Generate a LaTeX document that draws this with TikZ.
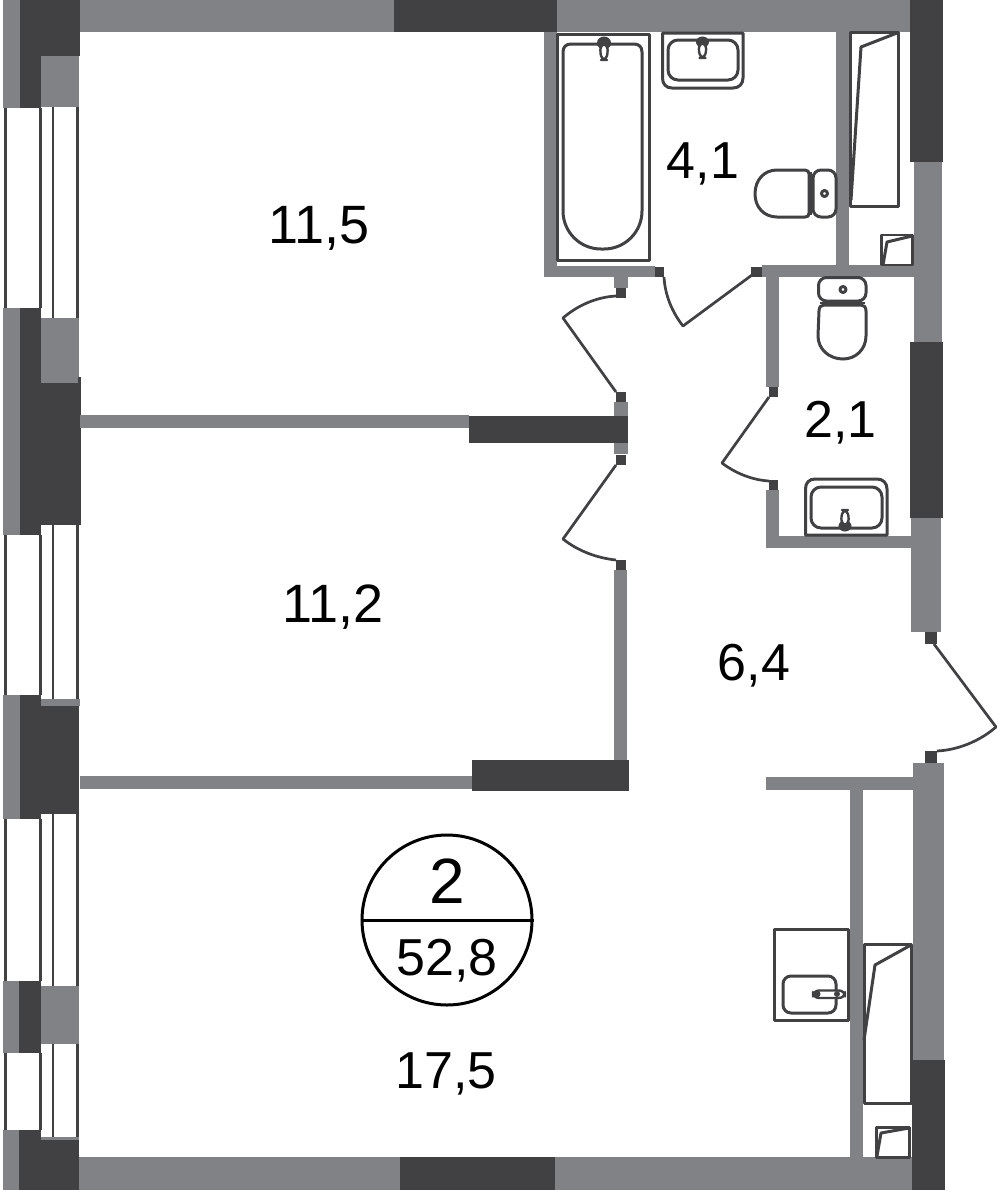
\documentclass[tikz,border=0pt]{standalone}
\usepackage{fontspec}
\setmainfont{Liberation Sans}
\definecolor{wallg}{HTML}{808285}
\definecolor{walld}{HTML}{414042}
\newcommand\gw[4]{\fill[wallg] (#1,#2) rectangle (#3,#4);}
\newcommand\dw[4]{\fill[walld] (#1,#2) rectangle (#3,#4);}
\newcommand\win[4]{%
  \dw{3.5}{#1}{7}{#2}\dw{39}{#1}{42.3}{#2}%
  \dw{52}{#3}{54.4}{#4}\dw{76}{#3}{78.8}{#4}}
\tikzset{
  fix/.style={draw=walld,line width=1.5pt,line join=round},
  thin fix/.style={draw=walld,line width=1.2pt,line join=round},
  leaf/.style={draw=walld,line width=1.35pt,line join=round},
  area/.style={font=\fontsize{26}{26}\selectfont,anchor=base,text=black,inner sep=0pt},
  big area/.style={area,font=\fontsize{27}{27}\selectfont},
}
\begin{document}
\begin{tikzpicture}[x=0.5pt,y=-0.5pt]
\useasboundingbox (0,0) rectangle (1000,1190);
\fill[white] (0,0) rectangle (1000,1190);
% left facade
\gw{3}{0}{20}{108}\dw{20}{0}{80}{56}\dw{20}{56}{41}{108}\gw{41}{56}{79}{107}
\win{108}{308}{107}{318}
\gw{3}{308}{20}{535}\dw{20}{308}{41}{535}\gw{41}{318}{79}{383}\dw{41}{383}{80.5}{525}\dw{78}{377}{80.5}{383}
\win{535}{695}{525}{699}
\gw{3}{695}{20}{819}\dw{20}{695}{41}{819}\gw{41}{699}{80}{706}\dw{41}{706}{79}{814}
\win{819}{981}{814}{986}
\gw{3}{981}{19}{1053}\dw{19}{981}{41}{1053}\gw{41}{986}{79}{1044}
\win{1053}{1130}{1044}{1137}
\gw{3}{1130}{19}{1190}\dw{19}{1130}{41}{1190}\gw{41}{1137}{79}{1140}\dw{41}{1140}{79}{1190}
% top wall
\gw{80}{0}{394}{32}\dw{394}{0}{557}{32}\gw{557}{0}{912}{32}
% right wall
\dw{910}{0}{943}{162}\gw{914}{162}{942}{342}\dw{910}{342}{943}{518}\gw{911}{518}{941}{632}
\dw{925}{632}{937}{644}\dw{925}{751}{937}{763}
\gw{913}{763}{944}{1060}\dw{912}{1060}{945}{1190}
% bottom wall
\gw{79}{1157}{400}{1190}\dw{400}{1157}{555}{1190}\gw{555}{1157}{912}{1190}
% bathroom walls
\gw{544}{32}{557}{277}\gw{544}{266}{655}{277}\dw{655}{267}{664}{277}
\gw{614}{277}{628}{288}\dw{616}{288}{626}{298}
\dw{751}{267}{762}{277}\gw{762}{265}{914}{277}\gw{836}{32}{849}{265}
% WC walls
\gw{766}{277}{779}{387}\dw{769}{387}{778}{397}\dw{769}{480}{778}{490}
\gw{766}{490}{779}{548}\gw{766}{536}{911}{548}
% room partitions
\dw{616}{392}{626}{402}\gw{614}{402}{628}{416}
\gw{80}{415}{469}{428}\dw{469}{416}{628}{443}
\gw{614}{443}{628}{454}\dw{616}{455}{626}{465}
\dw{616}{560}{626}{570}\gw{614}{570}{627}{760}
\gw{80}{776}{472}{789}\dw{472}{760}{629}{791}
% hall
\gw{766}{777}{913}{790}\gw{850}{790}{863}{1157}
% doors
\draw[leaf] (616,296) .. controls (597,297) and (578,305) .. (563,318) -- (616,392);
\draw[leaf] (616,465) -- (563,539) .. controls (578,551) and (597,558) .. (616,560);
\draw[leaf] (664,277) .. controls (665,295) and (672,312) .. (683,326) -- (752,275);
\draw[leaf] (769,397) -- (722,463) .. controls (735,473) and (752,480) .. (769,481);
\draw[leaf] (934,644) -- (996,727) .. controls (980,741) and (958,750) .. (937,751);
% bath
\draw[fix] (557.5,34) rectangle (649,260);
\draw[fix] (563,52) .. controls (563,47) and (566,44) .. (571,44) -- (634,44) .. controls (639,44) and (642,47) .. (642,52) -- (642,211) .. controls (642,232) and (625,249) .. (604,249) -- (601,249) .. controls (580,249) and (563,232) .. (563,211) -- cycle;
\fill[walld] (604,43) ellipse (7 and 6.5);
\draw[thin fix,fill=white,rounded corners=3] (600,44) -- (608,44) -- (607,60) -- (601,60) -- cycle;
% sink 1
\draw[fix] (662.5,33) -- (662.5,78) .. controls (662.5,84) and (666,88) .. (672,88) -- (733,88) .. controls (739,88) and (743,84) .. (743,78) -- (743,33) -- cycle;
\draw[fix,rounded corners=5] (668,40) rectangle (738,80);
\fill[walld] (702.5,42) ellipse (6.5 and 5.5);
\draw[thin fix,fill=white,rounded corners=3] (698.5,43) -- (706.5,43) -- (705.5,58) -- (699.5,58) -- cycle;
% toilet 1
\draw[fix] (777,170) -- (805,170) .. controls (808,170) and (809,172) .. (809,174) -- (809,213) .. controls (809,216) and (808,217) .. (805,217) -- (777,217) .. controls (764,217) and (755,207) .. (755,194) .. controls (755,180) and (764,170) .. (777,170) -- cycle;
\draw[fix,rounded corners=4] (813,170) rectangle (836,217);
\draw[thin fix] (811,172) -- (811,215);
\draw[fix] (824.5,193.5) circle (3);
% wardrobe / fixtures in bath
\draw[fix] (850.5,32.5) rectangle (898.5,206.5);
\draw[fix] (897,33) -- (861,47) -- (851,200);
\draw[thin fix] (881.5,235) rectangle (912.5,265);
\draw[fix] (912,236) -- (887,242) -- (883,265);
% toilet 2
\draw[fix,rounded corners=4] (818.5,277.5) rectangle (866,301);
\draw[fix] (843,289.5) circle (3);
\draw[thin fix] (820,303) -- (865,303);
\draw[fix] (819,311) .. controls (819,307) and (821,305) .. (824,305) -- (861,305) .. controls (864,305) and (866,307) .. (866,311) -- (866,336) .. controls (866,349) and (856,359) .. (843,359) .. controls (829,359) and (818,349) .. (818,336) -- cycle;
% sink 2
\draw[fix] (805.5,535) -- (805.5,489) .. controls (805.5,483) and (809,479) .. (815,479) -- (877,479) .. controls (883,479) and (887,483) .. (887,489) -- (887,535) -- cycle;
\draw[fix,rounded corners=5] (811,487) rectangle (882,528);
\fill[walld] (845,526) ellipse (6.5 and 5.5);
\draw[thin fix,fill=white,rounded corners=3] (842,510) -- (848,510) -- (849,525) -- (841,525) -- cycle;
% hall sink
\draw[fix] (774,929.5) rectangle (848,1020.5);
\draw[fix,rounded corners=4] (783,976) rectangle (836,1013);
\draw[thin fix,fill=white,rounded corners=3] (813,990.5) rectangle (845,998);
\fill[walld] (817,994) circle (3.5);
\fill[walld] (837,994) circle (3);
% hall wardrobe
\draw[fix] (864,944.5) rectangle (911,1103);
\draw[fix] (911,945) -- (875,965) -- (864,1040);
\draw[fix] (876.5,1127) rectangle (909.5,1157);
\draw[fix] (909,1128) -- (881,1133) -- (877,1156);
% badge
\node[circle,draw=black,line width=1.5pt,minimum size=85pt,inner sep=0pt] (badge) at (447,920) {};
\draw[black,line width=1.5pt] (badge.west) -- (badge.east);
\node[area,font=\fontsize{32}{32}\selectfont] (rooms) at (447,903) {2};
\node[area] (total) at (447,975) {52,8};
% areas
\node[big area] (a1) at (319,243) {11,5};
\node[big area] (a2) at (333,622) {11,2};
\node[area] (a3) at (703,178) {4,1};
\node[area] (a4) at (840.5,437) {2,1};
\node[area] (a5) at (754,680) {6,4};
\node[area] (a6) at (446,1088) {17,5};
\end{tikzpicture}
\end{document}
